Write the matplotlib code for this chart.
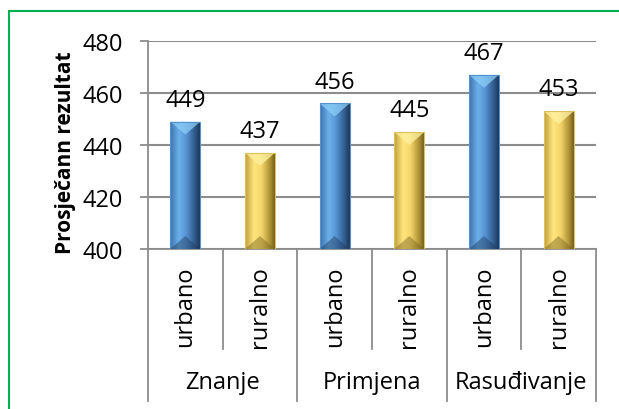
import numpy as np
import matplotlib
matplotlib.use("Agg")
import matplotlib.pyplot as plt
from matplotlib.colors import LinearSegmentedColormap
from matplotlib.patches import Polygon, Rectangle
import matplotlib.transforms as mtransforms

plt.rcParams['font.family'] = ['Open Sans', 'DejaVu Sans']

groups = ["Znanje", "Primjena", "Rasuđivanje"]
subgroups = ["urbano", "ruralno"]
values = [449, 437, 456, 445, 467, 453]
ylabel = "Prosječann rezultat"
yticks = [400, 420, 440, 460, 480]

# cylinder-like shading, left to right across each bar
blue_cm = LinearSegmentedColormap.from_list(
    "blue_bar", [(0, "#3e72ae"), (0.3, "#6cb0ea"), (0.55, "#5592d2"),
                 (0.85, "#2d5686"), (1, "#1d3656")])
yellow_cm = LinearSegmentedColormap.from_list(
    "yellow_bar", [(0, "#bc9d3a"), (0.3, "#ffe57e"), (0.55, "#f4d66a"),
                   (0.85, "#ab8f32"), (1, "#705c1c")])
cmaps = [blue_cm, yellow_cm]
tops = ["#8ccdf7", "#fff1a2"]
bottoms = ["#1e3a5c", "#7a6420"]

W, H = 619, 410
fig = plt.figure(figsize=(W / 100, H / 100), dpi=100)
ax = fig.add_axes([148 / W, 1 - 250 / H, (596 - 148) / W, (250 - 42) / H])

x = np.arange(len(values))
bars = ax.bar(x, values, width=0.4, bottom=0, color="none", zorder=3)
ax.set_ylim(400, 480)
ax.set_xlim(-0.5, len(values) - 0.5)

grad = np.linspace(0, 1, 256).reshape(1, -1)
px_y = (480 - 400) / 208.0  # data units per pixel in y
for i, b in enumerate(bars):
    x0, w, h = b.get_x(), b.get_width(), b.get_height()
    y0, y1 = 400, h
    cm = cmaps[i % 2]
    im = ax.imshow(grad, cmap=cm, aspect="auto", extent=[x0, x0 + w, y0, y1],
                   zorder=3, interpolation="bicubic")
    im.set_clip_path(b)
    d = 13 * px_y
    ax.add_patch(Polygon([[x0, y1], [x0 + w, y1], [x0 + w / 2, y1 - d]],
                         closed=True, facecolor=tops[i % 2], alpha=0.75,
                         edgecolor="none", zorder=4))
    ax.add_patch(Polygon([[x0, y0], [x0 + w, y0], [x0 + w / 2, y0 + d]],
                         closed=True, facecolor=bottoms[i % 2], alpha=0.45,
                         edgecolor="none", zorder=4))
    ax.add_patch(Rectangle((x0, y0), w, y1 - y0, facecolor="none",
                           edgecolor=cm(0.15), linewidth=0.8, zorder=4))
    ax.annotate(str(values[i]), (x0 + w / 2, y1), xytext=(0, 7),
                textcoords="offset points", ha="center", va="bottom",
                fontsize=17, color="#000000", zorder=5)

ax.set_yticks(yticks)
ax.tick_params(axis="y", length=6, width=1.3, color="#8c8c8c",
               labelsize=17, pad=12)
ax.set_xticks([])
ax.yaxis.grid(True, color="#8c8c8c", linewidth=1.5, zorder=0)
ax.set_axisbelow(True)
for s in ["top", "right"]:
    ax.spines[s].set_visible(False)
for s in ["left", "bottom"]:
    ax.spines[s].set_color("#8c8c8c")
    ax.spines[s].set_linewidth(1.3)
ax.set_ylabel(ylabel, fontsize=15, fontweight="bold")
ax.yaxis.set_label_coords((76 - 148) / 448.0, (250 - 153) / 208.0)

# two-level category axis below the plot
trans = mtransforms.blended_transform_factory(ax.transData, ax.transAxes)
axh = 208.0
for k in range(len(values) + 1):
    xb = k - 0.5
    low = -152 / axh if k % 2 == 0 else -100 / axh
    ax.plot([xb, xb], [0, low], transform=trans, color="#8c8c8c",
            linewidth=1.3, clip_on=False)
for i in range(len(values)):
    ax.text(i, -57 / axh, subgroups[i % 2], transform=trans, rotation=90,
            ha="center", va="center", fontsize=17)
for g, name in enumerate(groups):
    ax.text(2 * g + 0.5, -133 / axh, name, transform=trans,
            ha="center", va="center", fontsize=17)

# green frame around the chart area
fig.patches.append(Rectangle((9 / W, -0.1), 1.2, (H - 12) / H + 0.1,
                             transform=fig.transFigure, fill=False,
                             edgecolor="#00b050", linewidth=1.5))

fig.savefig("out.png", dpi=100)
